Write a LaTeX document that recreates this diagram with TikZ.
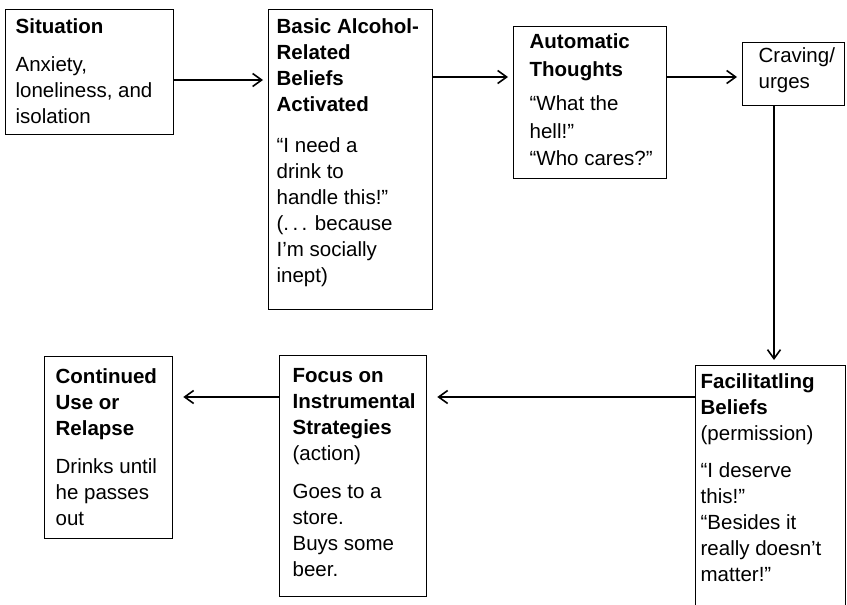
\documentclass[tikz,border=0pt]{standalone}
\usepackage{fontspec}
\setmainfont{Liberation Sans}
\usetikzlibrary{arrows.meta}

% #1 width, #2 height, #3 left padding, #4 depth of the first baseline, #5 text
\newcommand\cellbox[5]{%
  \begin{minipage}[t][#2][t]{#1}%
    \fontsize{20.5}{26}\selectfont\raggedright\leftskip=#3\relax
    \rule{0pt}{#4}#5%
  \end{minipage}}

\tikzset{
  stagebox/.style={draw, line width=1.3pt, inner sep=0pt, anchor=north west},
  flowarrow/.style={line width=1.9pt, -{Straight Barb[length=9pt,width=13pt,line width=1.6pt]}, shorten >=5pt},
}

\begin{document}
\begin{tikzpicture}[x=1pt, y=-1pt]
  \clip (0,0) rectangle (847,605);
  \fill[white] (0,0) rectangle (847,605);

  % top row
  \node[stagebox] (sit) at (5,9)
    {\cellbox{168pt}{125pt}{10pt}{24pt}{\textbf{Situation}\\[12pt]Anxiety,\\loneliness, and\\isolation}};
  \node[stagebox] (basic) at (268,9)
    {\cellbox{164pt}{300pt}{8pt}{24pt}{\textbf{Basic Alcohol-\\Related\\Beliefs\\Activated}\\[15pt]“I need a\\drink to\\handle this!”\\(.\,.\,. because\\I’m socially\\inept)}};
  \node[stagebox] (auto) at (513,26)
    {\cellbox{153pt}{152pt}{16pt}{22pt}{\textbf{Automatic\\[2pt]Thoughts}\\[8pt]“What the\\[2pt]hell!”\\[1pt]“Who cares?”}};
  \node[stagebox] (crave) at (742,42)
    {\cellbox{102pt}{63pt}{16pt}{20pt}{Craving/\\urges}};

  % bottom row
  \node[stagebox] (fac) at (695,365)
    {\cellbox{150pt}{300pt}{5pt}{23pt}{\textbf{Facilitatling\\Beliefs}\\(permission)\\[11pt]“I deserve\\this!”\\“Besides it\\really doesn’t\\matter!”}};
  \node[stagebox] (focus) at (279,355)
    {\cellbox{147pt}{241pt}{13pt}{27pt}{\textbf{Focus on\\Instrumental\\Strategies}\\(action)\\[12pt]Goes to a\\store.\\Buys some\\beer.}};
  \node[stagebox] (cont) at (44,356)
    {\cellbox{128pt}{182pt}{11pt}{27pt}{\textbf{Continued\\Use or\\Relapse}\\[12pt]Drinks until\\he passes\\out}};

  % connector heights
  \coordinate (rowA) at (0,80);
  \coordinate (rowB) at (0,77);
  \coordinate (rowC) at (0,397);
  \coordinate (colD) at (774,0);

  \draw[flowarrow] (sit.east |- rowA) -- (basic.west |- rowA);
  \draw[flowarrow] (basic.east |- rowB) -- (auto.west |- rowB);
  \draw[flowarrow] (auto.east |- rowB) -- (crave.west |- rowB);
  \draw[flowarrow] (crave.south -| colD) -- (fac.north -| colD);
  \draw[flowarrow, shorten >=10pt] (fac.west |- rowC) -- (focus.east |- rowC);
  \draw[flowarrow, shorten >=10pt] (focus.west |- rowC) -- (cont.east |- rowC);
\end{tikzpicture}
\end{document}
